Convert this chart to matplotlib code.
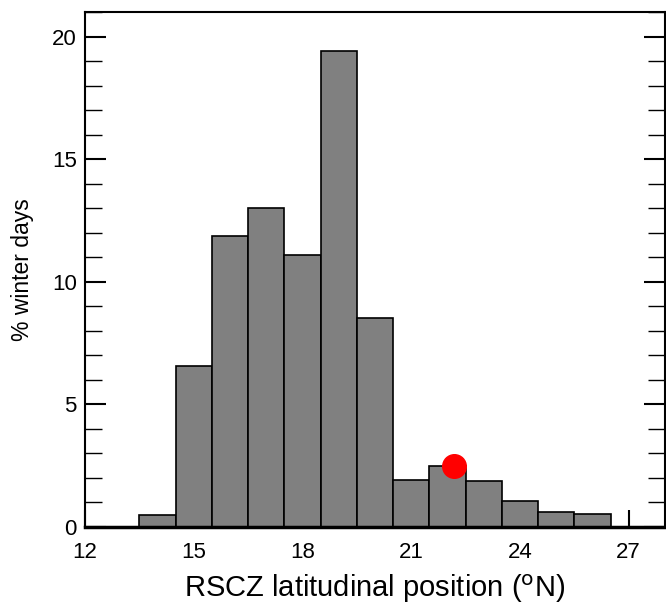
import matplotlib
matplotlib.use("Agg")
import matplotlib.pyplot as plt
from matplotlib.ticker import MultipleLocator

plt.rcParams['font.family'] = ['Liberation Sans', 'DejaVu Sans']

bin_centers = [14, 15, 16, 17, 18, 19, 20, 21, 22, 23, 24, 25, 26]
percent_days = [0.49, 6.57, 11.88, 13.02, 11.1, 19.43, 8.53, 1.92, 2.49, 1.88, 1.06, 0.61, 0.53]
marker_x = [22.17]
marker_y = [2.47]
x_ticks = [12, 15, 18, 21, 24, 27]
y_ticks = [0, 5, 10, 15, 20]

fig = plt.figure(figsize=(6.66, 6.07), dpi=100)
ax = fig.add_axes([0.1276, 0.1318, 0.8709, 0.8484])

ax.bar(bin_centers, percent_days, width=1.0, color='#808080', edgecolor='black',
       linewidth=1.2, zorder=2)
ax.plot(marker_x, marker_y, 'o', color='red', markersize=17, zorder=3, clip_on=False)

ax.set_xlim(12, 28)
ax.set_ylim(0, 21)
ax.set_xticks(x_ticks)
ax.set_yticks(y_ticks)
ax.yaxis.set_minor_locator(MultipleLocator(1))

ax.tick_params(axis='y', which='major', direction='in', length=15, width=1.5,
               left=True, right=True, labelsize=16, pad=6)
ax.tick_params(axis='y', which='minor', direction='in', length=12, width=1.0,
               left=True, right=True)
ax.tick_params(axis='x', which='major', direction='in', length=12, width=1.5,
               bottom=True, top=False, labelsize=16, pad=11)

for side in ['left', 'top', 'right']:
    ax.spines[side].set_linewidth(1.5)
ax.spines['bottom'].set_linewidth(2.5)

ax.set_xlabel('RSCZ latitudinal position ($^{\\mathrm{o}}$N)', fontsize=21, labelpad=7)
ax.set_ylabel('% winter days', fontsize=16.5, labelpad=13)

fig.savefig('out.png', dpi=100)
